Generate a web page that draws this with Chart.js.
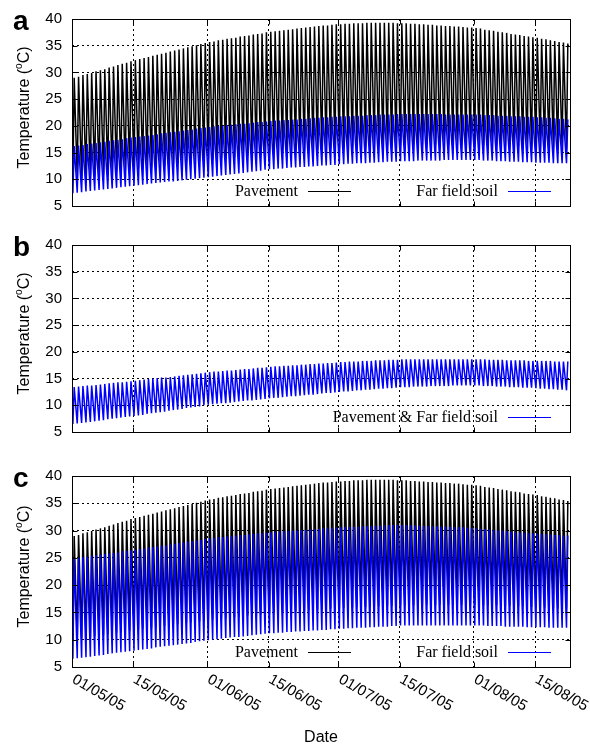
<!DOCTYPE html>
<html>
<head>
<meta charset="utf-8">
<script src="https://cdn.jsdelivr.net/npm/chart.js@4.4.0/dist/chart.umd.min.js"></script>
<style>
  body { margin: 0; background: #fff; }
  #wrap { position: relative; width: 590px; height: 747px; }
  canvas { position: absolute; left: 0; }
</style>
</head>
<body>
<div id="wrap">
  <canvas id="chartA" width="590" height="225" style="top:0px"></canvas>
  <canvas id="chartB" width="590" height="225" style="top:226px"></canvas>
  <canvas id="chartC" width="590" height="290" style="top:457px"></canvas>
</div>
<script>
// days counted from 01/05/05, one cycle per day
const tickDays = [0, 14, 31, 45, 61, 75, 92, 106];
const tickLabels = ["01/05/05", "15/05/05", "01/06/05", "15/06/05", "01/07/05", "15/07/05", "01/08/05", "15/08/05"];

// pavement daily max / min (same in a and c)
const pavementMax = [
  29.0, 29.2, 29.5, 29.7, 29.9, 30.2, 30.4, 30.6, 30.9, 31.1, 31.4, 31.6, 31.8, 32.1, 32.3,
  32.5, 32.7, 32.9, 33.1, 33.3, 33.5, 33.7, 33.9, 34.1, 34.3, 34.5, 34.7, 34.9, 35.1, 35.3, 35.5, 35.7,
  35.8, 36.0, 36.1, 36.3, 36.4, 36.5, 36.7, 36.8, 36.9, 37.1, 37.2, 37.3, 37.5, 37.6,
  37.7, 37.8, 37.9, 38.0, 38.1, 38.2, 38.3, 38.4, 38.5, 38.6, 38.7, 38.8, 38.8, 38.9, 39.0, 39.0,
  39.1, 39.1, 39.2, 39.2, 39.2, 39.3, 39.3, 39.3, 39.3, 39.3, 39.3, 39.3, 39.2, 39.2,
  39.2, 39.1, 39.1, 39.0, 39.0, 38.9, 38.9, 38.8, 38.8, 38.7, 38.7, 38.6, 38.6, 38.5, 38.4, 38.4, 38.3,
  38.2, 38.0, 37.9, 37.8, 37.6, 37.5, 37.4, 37.2, 37.1, 37.0, 36.8, 36.7, 36.6, 36.5,
  36.3, 36.2, 36.0, 35.9, 35.7, 35.6, 35.4
];
const pavementMin = [
  10.0, 10.1, 10.3, 10.4, 10.5, 10.7, 10.8, 10.9, 11.0, 11.2, 11.3, 11.4, 11.5, 11.7, 11.8,
  11.9, 12.0, 12.1, 12.2, 12.3, 12.4, 12.5, 12.7, 12.8, 12.9, 13.0, 13.1, 13.2, 13.3, 13.4, 13.5, 13.6,
  13.7, 13.8, 13.9, 13.9, 14.0, 14.1, 14.2, 14.3, 14.4, 14.4, 14.5, 14.6, 14.7, 14.8,
  14.9, 14.9, 15.0, 15.1, 15.1, 15.2, 15.3, 15.3, 15.4, 15.5, 15.5, 15.6, 15.6, 15.7, 15.7, 15.8,
  15.8, 15.9, 15.9, 16.0, 16.0, 16.0, 16.1, 16.1, 16.1, 16.2, 16.2, 16.2, 16.3, 16.3,
  16.3, 16.3, 16.3, 16.4, 16.4, 16.4, 16.4, 16.4, 16.4, 16.4, 16.4, 16.4, 16.4, 16.4, 16.4, 16.4, 16.4,
  16.4, 16.3, 16.3, 16.3, 16.3, 16.2, 16.2, 16.2, 16.2, 16.1, 16.1, 16.1, 16.0, 16.0,
  15.9, 15.9, 15.8, 15.8, 15.7, 15.7, 15.6
];

// far field soil, panel a
const soilMaxA = [
  16.2, 16.3, 16.4, 16.6, 16.7, 16.8, 16.9, 17.0, 17.2, 17.3, 17.4, 17.5, 17.7, 17.8, 17.9,
  18.0, 18.1, 18.2, 18.3, 18.4, 18.6, 18.7, 18.8, 18.9, 19.0, 19.1, 19.2, 19.3, 19.5, 19.6, 19.7, 19.8,
  19.9, 20.0, 20.0, 20.1, 20.2, 20.3, 20.4, 20.4, 20.5, 20.6, 20.7, 20.7, 20.8, 20.9,
  21.0, 21.0, 21.1, 21.1, 21.2, 21.2, 21.3, 21.3, 21.4, 21.5, 21.5, 21.6, 21.6, 21.7, 21.7, 21.8,
  21.8, 21.8, 21.9, 21.9, 21.9, 22.0, 22.0, 22.0, 22.1, 22.1, 22.1, 22.1, 22.2, 22.2,
  22.2, 22.2, 22.2, 22.2, 22.2, 22.2, 22.2, 22.2, 22.2, 22.1, 22.1, 22.1, 22.1, 22.1, 22.1, 22.1, 22.1,
  22.1, 22.0, 22.0, 22.0, 21.9, 21.9, 21.9, 21.8, 21.8, 21.8, 21.7, 21.7, 21.7, 21.6,
  21.6, 21.5, 21.5, 21.4, 21.3, 21.3, 21.2
];
const soilMinA = [
  7.4, 7.5, 7.6, 7.7, 7.8, 7.9, 8.0, 8.1, 8.2, 8.3, 8.4, 8.5, 8.6, 8.7, 8.8,
  8.9, 9.0, 9.1, 9.2, 9.3, 9.4, 9.5, 9.6, 9.6, 9.7, 9.8, 9.9, 10.0, 10.1, 10.2, 10.3, 10.4,
  10.5, 10.6, 10.7, 10.8, 10.9, 11.0, 11.1, 11.2, 11.3, 11.4, 11.5, 11.6, 11.8, 11.9,
  11.9, 12.0, 12.0, 12.1, 12.2, 12.2, 12.3, 12.3, 12.4, 12.4, 12.5, 12.6, 12.6, 12.7, 12.7, 12.8,
  12.8, 12.9, 12.9, 13.0, 13.0, 13.0, 13.1, 13.1, 13.2, 13.2, 13.3, 13.3, 13.3, 13.4,
  13.4, 13.4, 13.4, 13.5, 13.5, 13.5, 13.5, 13.5, 13.5, 13.6, 13.6, 13.6, 13.6, 13.6, 13.6, 13.6, 13.6,
  13.6, 13.5, 13.5, 13.5, 13.4, 13.4, 13.4, 13.3, 13.3, 13.3, 13.2, 13.2, 13.2, 13.1,
  13.1, 13.1, 13.1, 13.0, 13.0, 13.0, 13.0
];

// panel b: pavement & far field soil
const soilMaxB = [
  13.4, 13.5, 13.6, 13.7, 13.7, 13.8, 13.9, 14.0, 14.1, 14.2, 14.3, 14.3, 14.4, 14.5, 14.6,
  14.7, 14.8, 14.9, 15.0, 15.1, 15.2, 15.2, 15.3, 15.4, 15.5, 15.6, 15.7, 15.8, 15.9, 16.0, 16.1, 16.2,
  16.3, 16.3, 16.4, 16.5, 16.5, 16.6, 16.7, 16.8, 16.8, 16.9, 17.0, 17.0, 17.1, 17.2,
  17.3, 17.3, 17.4, 17.4, 17.5, 17.5, 17.6, 17.6, 17.7, 17.7, 17.8, 17.8, 17.9, 17.9, 18.0, 18.1,
  18.1, 18.2, 18.2, 18.2, 18.3, 18.3, 18.3, 18.4, 18.4, 18.4, 18.5, 18.5, 18.5, 18.6,
  18.6, 18.6, 18.6, 18.6, 18.6, 18.6, 18.6, 18.6, 18.6, 18.6, 18.6, 18.6, 18.6, 18.6, 18.6, 18.6, 18.6,
  18.6, 18.6, 18.5, 18.5, 18.5, 18.5, 18.4, 18.4, 18.4, 18.4, 18.4, 18.3, 18.3, 18.3,
  18.3, 18.3, 18.3, 18.2, 18.2, 18.2, 18.2
];
const soilMinB = [
  6.5, 6.6, 6.7, 6.8, 6.9, 7.0, 7.1, 7.2, 7.4, 7.5, 7.6, 7.7, 7.8, 7.9, 8.0,
  8.1, 8.2, 8.4, 8.5, 8.6, 8.7, 8.8, 9.0, 9.1, 9.2, 9.3, 9.5, 9.6, 9.7, 9.8, 10.0, 10.1,
  10.2, 10.3, 10.4, 10.4, 10.5, 10.6, 10.7, 10.8, 10.9, 10.9, 11.0, 11.1, 11.2, 11.3,
  11.4, 11.4, 11.5, 11.6, 11.7, 11.7, 11.8, 11.9, 12.0, 12.0, 12.1, 12.2, 12.3, 12.3, 12.4, 12.5,
  12.6, 12.6, 12.7, 12.8, 12.8, 12.9, 12.9, 13.0, 13.1, 13.1, 13.2, 13.2, 13.3, 13.4,
  13.4, 13.4, 13.5, 13.5, 13.5, 13.5, 13.6, 13.6, 13.6, 13.6, 13.6, 13.7, 13.7, 13.7, 13.7, 13.7, 13.7,
  13.7, 13.6, 13.6, 13.6, 13.5, 13.5, 13.5, 13.4, 13.4, 13.4, 13.3, 13.3, 13.3, 13.2,
  13.1, 13.1, 13.0, 13.0, 12.9, 12.9, 12.8
];

// far field soil, panel c
const soilMaxC = [
  24.9, 25.0, 25.1, 25.2, 25.4, 25.5, 25.6, 25.7, 25.8, 25.9, 26.0, 26.2, 26.3, 26.4, 26.5,
  26.6, 26.7, 26.9, 27.0, 27.1, 27.2, 27.3, 27.5, 27.6, 27.7, 27.8, 28.0, 28.1, 28.2, 28.3, 28.5, 28.6,
  28.7, 28.8, 28.8, 28.9, 29.0, 29.1, 29.2, 29.2, 29.3, 29.4, 29.5, 29.5, 29.6, 29.7,
  29.8, 29.8, 29.9, 29.9, 30.0, 30.0, 30.1, 30.1, 30.2, 30.2, 30.3, 30.4, 30.4, 30.5, 30.5, 30.6,
  30.6, 30.7, 30.7, 30.7, 30.8, 30.8, 30.8, 30.9, 30.9, 30.9, 31.0, 31.0, 31.0, 31.0,
  31.0, 31.0, 30.9, 30.9, 30.9, 30.8, 30.8, 30.8, 30.7, 30.7, 30.7, 30.6, 30.6, 30.6, 30.5, 30.5, 30.4,
  30.3, 30.3, 30.2, 30.1, 30.0, 30.0, 29.9, 29.8, 29.7, 29.7, 29.6, 29.5, 29.5, 29.4,
  29.4, 29.3, 29.3, 29.2, 29.2, 29.1, 29.1
];
const soilMinC = [
  6.5, 6.6, 6.7, 6.8, 6.9, 7.0, 7.1, 7.2, 7.4, 7.5, 7.6, 7.7, 7.8, 7.9, 8.0,
  8.1, 8.2, 8.3, 8.4, 8.6, 8.7, 8.8, 8.9, 9.0, 9.1, 9.2, 9.3, 9.4, 9.6, 9.7, 9.8, 9.9,
  10.0, 10.1, 10.2, 10.3, 10.4, 10.5, 10.5, 10.6, 10.7, 10.8, 10.9, 11.0, 11.1, 11.2,
  11.2, 11.3, 11.3, 11.4, 11.4, 11.5, 11.5, 11.6, 11.6, 11.7, 11.7, 11.8, 11.8, 11.9, 11.9, 12.0,
  12.0, 12.1, 12.1, 12.2, 12.2, 12.2, 12.3, 12.3, 12.4, 12.4, 12.4, 12.5, 12.5, 12.6,
  12.6, 12.6, 12.6, 12.6, 12.6, 12.6, 12.6, 12.6, 12.6, 12.6, 12.6, 12.6, 12.6, 12.6, 12.6, 12.6, 12.6,
  12.6, 12.6, 12.5, 12.5, 12.5, 12.5, 12.4, 12.4, 12.4, 12.4, 12.4, 12.3, 12.3, 12.3,
  12.3, 12.3, 12.2, 12.2, 12.2, 12.2, 12.2
];

// daily cycle: low in the early morning, peak early afternoon
function cycle(mins, maxs) {
  const pts = [];
  for (let i = 0; i < mins.length; i++) {
    pts.push({ x: i + 0.2, y: mins[i] });
    pts.push({ x: i + 0.5, y: maxs[i] });
  }
  return pts;
}

function series(label, mins, maxs, color, order) {
  return {
    label: label,
    data: cycle(mins, maxs),
    borderColor: color,
    borderWidth: 1.5,
    pointRadius: 0,
    tension: 0,
    fill: false,
    order: order
  };
}

const SANS = '"Liberation Sans", Arial, sans-serif';
const SERIF = '"Liberation Serif", "Times New Roman", serif';

// gnuplot-like frame, inward ticks, key, panel letter, axis titles
const gnuFrame = {
  id: "gnuFrame",
  afterDraw(chart, args, opts) {
    const ctx = chart.ctx;
    const a = chart.chartArea;
    const xs = chart.scales.x, ys = chart.scales.y;
    const L = Math.round(a.left) + 0.5, R = Math.round(a.right) + 0.5;
    const T = Math.round(a.top) + 0.5, B = Math.round(a.bottom) + 0.5;
    ctx.save();
    ctx.strokeStyle = "#000";
    ctx.lineWidth = 1;
    ctx.strokeRect(L, T, R - L, B - T);
    ctx.beginPath();
    xs.ticks.forEach(t => {
      const px = Math.round(xs.getPixelForValue(t.value)) + 0.5;
      ctx.moveTo(px, B); ctx.lineTo(px, B - 5);
      ctx.moveTo(px, T); ctx.lineTo(px, T + 5);
    });
    ys.ticks.forEach(t => {
      const py = Math.round(ys.getPixelForValue(t.value)) + 0.5;
      ctx.moveTo(L, py); ctx.lineTo(L + 5, py);
      ctx.moveTo(R, py); ctx.lineTo(R - 5, py);
    });
    ctx.stroke();

    // key
    const ds = chart.data.datasets;
    const ly = Math.round(a.bottom - 15) + 0.5;
    ctx.font = "16px " + SERIF;
    ctx.textAlign = "right";
    ctx.textBaseline = "middle";
    ds.forEach((d, i) => {
      const end = a.right - 19 - (ds.length - 1 - i) * 200;
      ctx.fillStyle = "#000";
      ctx.fillText(d.label, end - 53, ly);
      ctx.strokeStyle = d.borderColor;
      ctx.lineWidth = 1.2;
      ctx.beginPath();
      ctx.moveTo(end - 43, ly);
      ctx.lineTo(end, ly);
      ctx.stroke();
    });

    // panel letter
    ctx.fillStyle = "#000";
    ctx.font = "bold 28px " + SANS;
    ctx.textAlign = "left";
    ctx.textBaseline = "alphabetic";
    ctx.fillText(opts.letter, 13, a.top + 11);

    // y title with superscript o
    ctx.save();
    ctx.translate(24.5, (a.top + a.bottom) / 2 - 5);
    ctx.rotate(-Math.PI / 2);
    ctx.textBaseline = "middle";
    const p1 = "Temperature (", p2 = "o", p3 = "C)";
    ctx.font = "16px " + SANS;
    const w1 = ctx.measureText(p1).width, w3 = ctx.measureText(p3).width;
    ctx.font = "10px " + SANS;
    const w2 = ctx.measureText(p2).width;
    let x0 = -(w1 + w2 + w3) / 2;
    ctx.font = "16px " + SANS;
    ctx.fillText(p1, x0, 0);
    ctx.font = "10px " + SANS;
    ctx.fillText(p2, x0 + w1, -5);
    ctx.font = "16px " + SANS;
    ctx.fillText(p3, x0 + w1 + w2, 0);
    ctx.restore();

    // rotated date labels
    if (opts.dates) {
      ctx.font = "15px " + SANS;
      ctx.textAlign = "left";
      ctx.textBaseline = "top";
      xs.ticks.forEach((t, i) => {
        const px = xs.getPixelForValue(t.value);
        ctx.save();
        ctx.translate(px + 5, a.bottom + 5);
        ctx.rotate(Math.PI / 6);
        ctx.fillText(tickLabels[i], 0, 0);
        ctx.restore();
      });
      ctx.font = "16px " + SANS;
      ctx.textAlign = "center";
      ctx.textBaseline = "middle";
      ctx.fillText("Date", (a.left + a.right) / 2, a.bottom + 70.5);
    }
    ctx.restore();
  }
};

function makeChart(id, letter, datasets, padTop, padBottom, dates) {
  return new Chart(document.getElementById(id), {
    type: "line",
    data: { datasets: datasets },
    plugins: [gnuFrame],
    options: {
      responsive: false,
      animation: false,
      events: [],
      parsing: false,
      layout: { padding: { left: 0, right: 20, top: padTop, bottom: padBottom } },
      plugins: {
        legend: { display: false },
        tooltip: { enabled: false },
        gnuFrame: { letter: letter, dates: dates }
      },
      scales: {
        x: {
          type: "linear",
          min: 0,
          max: 114,
          afterBuildTicks: s => { s.ticks = tickDays.map(v => ({ value: v })); },
          afterFit: s => { s.height = 0; },
          ticks: { display: false },
          grid: { color: "#000", lineWidth: 1, drawTicks: false },
          border: { display: false, dash: [2, 3] }
        },
        y: {
          min: 5,
          max: 40,
          afterFit: s => { s.width = 72; },
          ticks: { stepSize: 5, color: "#000", padding: 10, font: { family: SANS, size: 15 } },
          grid: { color: "#000", lineWidth: 1, drawTicks: false },
          border: { display: false, dash: [2, 3] }
        }
      }
    }
  });
}

makeChart("chartA", "a", [
  series("Pavement", pavementMin, pavementMax, "#000000", 2),
  series("Far field soil", soilMinA, soilMaxA, "#0000ff", 1)
], 15, 15, false);

makeChart("chartB", "b", [
  series("Pavement & Far field soil", soilMinB, soilMaxB, "#0000ff", 1)
], 16, 16, false);

makeChart("chartC", "c", [
  series("Pavement", pavementMin, pavementMax, "#000000", 2),
  series("Far field soil", soilMinC, soilMaxC, "#0000ff", 1)
], 16, 80, true);
</script>
</body>
</html>
